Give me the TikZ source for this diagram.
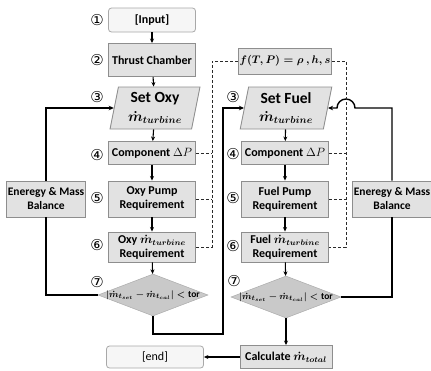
\documentclass[tikz,border=0pt]{standalone}
\usepackage{fontspec}
\usepackage{amsmath}
\setmainfont{Carlito}
\newfontfamily\circfont{DejaVu Sans}
\usetikzlibrary{shapes.geometric,arrows.meta,calc}
\definecolor{boxfill}{HTML}{E2E2E2}
\definecolor{boxline}{HTML}{8E8E8E}
\definecolor{ioFill}{HTML}{F6F6F6}
\definecolor{ioLine}{HTML}{A8A8A8}
\definecolor{diaFill}{HTML}{C9C9C9}
\definecolor{dashcol}{HTML}{2A2A2A}
\newcommand{\mdot}[1]{\boldsymbol{\dot m_{#1}}}

\begin{document}
\begin{tikzpicture}[x=1pt,y=-1pt,
  box/.style={draw=boxline, line width=0.9pt, fill=boxfill, minimum width=87pt,
    font=\bfseries\fontsize{12}{14}\selectfont, align=center, inner sep=1pt},
  iobox/.style={draw=ioLine, line width=0.8pt, fill=ioFill, rounded corners=3pt,
    minimum width=87pt, minimum height=24pt, font=\bfseries\fontsize{12}{12}\selectfont},
  para/.style={trapezium, trapezium left angle=79, trapezium right angle=101,
    trapezium stretches=true, draw=boxline, line width=0.9pt, fill=boxfill,
    minimum width=90pt, minimum height=42pt, align=center, inner sep=0pt},
  dia/.style={diamond, fill=diaFill, draw=diaFill!85!black, line width=0.5pt,
    minimum width=110pt, minimum height=42pt, inner sep=0pt},
  num/.style={font=\circfont\fontsize{15}{15}\selectfont, inner sep=0pt},
  flow/.style={line width=1.1pt, -{Stealth[length=4.5pt,width=4pt]}},
  fb/.style={line width=1.4pt},
  dsh/.style={draw=dashcol, line width=0.9pt, dash pattern=on 3pt off 2pt},
  balance/.style={box, font=\bfseries\fontsize{11.5}{14}\selectfont, minimum height=36pt}
]
\useasboundingbox (0,0) rectangle (431,370);

% ---- oxidiser branch ----
\node[iobox] (in) at (152,20) {[Input]};
\node[box, minimum height=33pt] (tc) at (152,60) {Thrust Chamber};
\node[para] (so) at (155,108) {{\bfseries\fontsize{15.5}{16}\selectfont Set Oxy}\\[6pt]{\fontsize{14}{14}\selectfont$\mdot{turbine}$}};
\node[box, minimum height=23pt] (cpo) at (152,153) {Component $\Delta P$};
\node[box, minimum height=36pt] (ppo) at (152,199) {Oxy Pump\\Requirement};
\node[box, minimum height=30pt] (mo) at (152,247) {Oxy $\mdot{turbine}$\\Requirement};
\node[dia] (dio) at (153,295) {};
\node[font=\fontsize{9.5}{12}\selectfont] at (dio) {$\boldsymbol{\lvert\dot m_{t_{set}}-\dot m_{t_{cal}}\rvert<\mathrm{tor}}$};
\node[iobox, minimum width=97pt, minimum height=22pt, font=\fontsize{12}{12}\selectfont] (end) at (155,357) {[end]};

% ---- fuel branch ----
\node[box, minimum width=85pt, minimum height=26pt, font=\fontsize{11}{12}\selectfont] (prop) at (285,61) {$\boldsymbol{f(T,P)=\rho\ ,h,s}$};
\node[para, minimum width=92pt] (sf) at (286,108) {{\bfseries\fontsize{15.5}{16}\selectfont Set Fuel}\\[6pt]{\fontsize{14}{14}\selectfont$\mdot{turbine}$}};
\node[box, minimum height=23pt] (cpf) at (285,153) {Component $\Delta P$};
\node[box, minimum height=36pt] (ppf) at (285,199) {Fuel Pump\\Requirement};
\node[box, minimum height=30pt] (mf) at (285,247) {Fuel $\mdot{turbine}$\\Requirement};
\node[dia] (dif) at (286,297) {};
\node[font=\fontsize{9.5}{12}\selectfont] at (dif) {$\boldsymbol{\lvert\dot m_{t_{set}}-\dot m_{t_{cal}}\rvert<\mathrm{tor}}$};
\node[box, minimum width=92pt, minimum height=23pt] (calc) at (286,357) {Calculate $\mdot{total}$};

% ---- balance boxes ----
\node[balance, minimum width=77pt] (ebl) at (46,199) {Eneregy \& Mass\\Balance};
\node[balance, minimum width=78pt] (ebr) at (392,199) {Eneregy \& Mass\\Balance};

% ---- step numbers ----
\foreach \n/\x/\y/\s in {a/97/20/①, b/97/60/②, c/97/97/③, d/97/155/④, e/97/198/⑤, f/97/245/⑥, g/97/282/⑦,
                         h/233/97/③, i/233/154/④, j/233/198/⑤, k/233/246/⑥, l/234/281/⑦}
  \node[num] (num\n) at (\x,\y) {\s};

% ---- main flow ----
\draw[flow] (in) -- (tc);
\draw[flow] (tc) -- (so);
\draw[flow] (so) -- (cpo);
\draw[flow] (cpo) -- (ppo);
\draw[flow] (ppo) -- (mo);
\draw[flow] (mo) -- (dio);
\draw[flow] (sf) -- (cpf);
\draw[flow] (cpf) -- (ppf);
\draw[flow] (ppf) -- (mf);
\draw[flow] (mf) -- (dif);
\draw[flow] (dif) -- (calc);
\draw[flow] (calc) -- (end);

% ---- iteration loops ----
\coordinate (jn) at (223,334);
\coordinate (hop) at (355,108);
\draw[fb] (dio.west) -| (ebl.south);
\draw[fb, -{Stealth[length=5pt,width=4.5pt]}] (ebl.north) |- (so.west);
\draw[fb, -{Stealth[length=5pt,width=4.5pt]}] (dio.south) |- (jn) |- (sf.west);
\draw[fb] (dif.east) -| (ebr.south);
\draw[fb, -{Stealth[length=5pt,width=4.5pt]}] (ebr.north) |- (hop)
  arc[start angle=0, end angle=-180, radius=9] -- (sf.east);

% ---- property links ----
\coordinate (dl) at (212,247);
\coordinate (dr) at (346,247);
\draw[dsh] (prop.west) -| (dl) -- (mo.east);
\draw[dsh] (cpo.east) -- (cpo.east -| dl);
\draw[dsh] (ppo.east) -- (ppo.east -| dl);
\draw[dsh] (prop.east) -| (dr) -- (mf.east);
\draw[dsh] (cpf.east) -- (cpf.east -| dr);
\draw[dsh] (ppf.east) -- (ppf.east -| dr);
\end{tikzpicture}
\end{document}
